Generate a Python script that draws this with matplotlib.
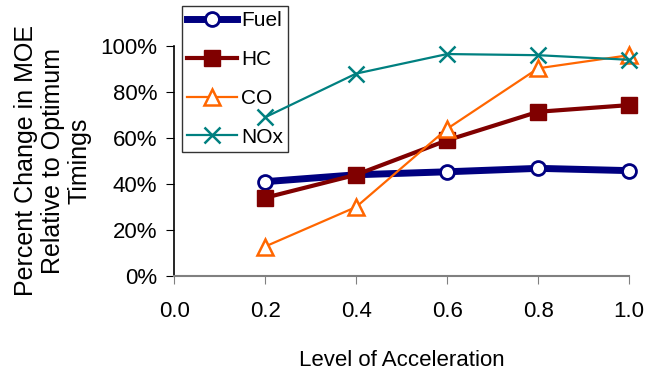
import numpy as np
import matplotlib.pyplot as plt

plt.rcParams['font.family'] = ['Liberation Sans', 'DejaVu Sans']

# niveaux d'accélération
accel = [0.2, 0.4, 0.6, 0.8, 1.0]

# variation relative des MOE (%)
fuel = [41, 44, 45.3, 46.8, 45.8]
hc = [34, 44, 59, 71.4, 74.3]
co = [12.8, 30, 64, 90.3, 96]
nox = [69, 88, 96.5, 96, 94]

x_ticks = [0.0, 0.2, 0.4, 0.6, 0.8, 1.0]
y_ticks = [0, 20, 40, 60, 80, 100]

fig = plt.figure(figsize=(6.52, 3.77), dpi=100)
ax = fig.add_axes([0.267, 0.268, 0.698, 0.61])
ax.patch.set_visible(False)

ax.plot(accel, fuel, color='#000080', lw=5, marker='o', ms=10,
        mfc='white', mec='#000080', mew=2, label='Fuel', clip_on=False)
ax.plot(accel, hc, color='#800000', lw=3, marker='s', ms=11,
        mfc='#800000', mec='#800000', label='HC', clip_on=False)
ax.plot(accel, co, color='#FF6600', lw=1.6, marker='^', ms=11,
        mfc='white', mec='#FF6600', mew=1.8, label='CO', clip_on=False)
ax.plot(accel, nox, color='#008080', lw=1.6, marker='x', ms=11,
        mec='#008080', mew=1.8, label='NOx', clip_on=False)

ax.set_xlim(0, 1.0)
ax.set_ylim(0, 100)
ax.set_xticks(x_ticks)
ax.set_xticklabels(['%.1f' % v for v in x_ticks])
ax.set_yticks(y_ticks)
ax.set_yticklabels(['%d%%' % v for v in y_ticks])
ax.tick_params(labelsize=16, length=6, direction='out')
ax.tick_params(axis='x', color='#808080', pad=12)
ax.tick_params(axis='y', pad=6)

ax.spines['top'].set_visible(False)
ax.spines['right'].set_visible(False)
ax.spines['bottom'].set_color('#808080')
ax.spines['bottom'].set_linewidth(1.5)
ax.spines['left'].set_linewidth(1.2)

ax.set_xlabel('Level of Acceleration', fontsize=16)
ax.xaxis.set_label_coords(0.5, -0.32)
ax.set_ylabel('Percent Change in MOE\nRelative to Optimum\nTimings',
              fontsize=18, linespacing=1.15)
ax.yaxis.set_label_coords(-0.181, 0.5)

# légende sous les courbes
leg = fig.legend(loc='upper left', bbox_to_anchor=(0.279, 0.984),
                 fontsize=15, frameon=True, fancybox=False,
                 handlelength=2.4, handletextpad=0.2, borderpad=0.25,
                 labelspacing=0.95, borderaxespad=0)
leg.get_frame().set_edgecolor('black')
leg.get_frame().set_linewidth(1.0)
leg.set_zorder(-1)

fig.savefig('out.png', dpi=100)
